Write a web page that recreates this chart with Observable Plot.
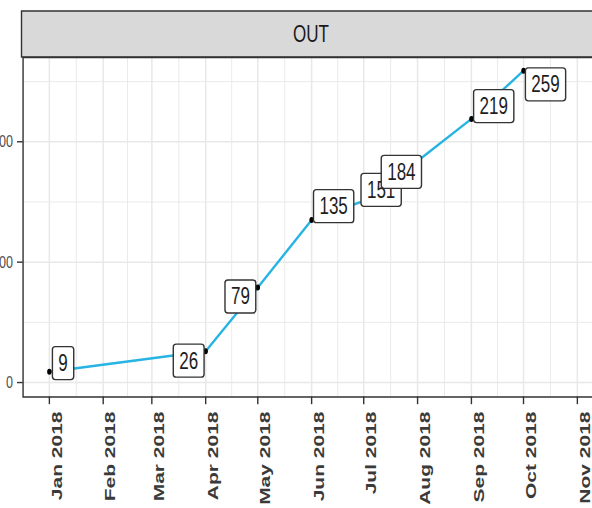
<!DOCTYPE html>
<html><head><meta charset="utf-8">
<script src="https://cdn.jsdelivr.net/npm/d3@7"></script>
<script src="https://cdn.jsdelivr.net/npm/@observablehq/plot@0.6"></script>
<style>
html,body{margin:0;padding:0;background:#fff;overflow:hidden;}
#chart svg path, #chart svg line, #chart svg rect, #chart svg circle { vector-effect: non-scaling-stroke; }
</style></head>
<body><div id="chart"></div>
<script>
// ---- data ----
const facetTitle = "OUT";
const dates = ["2018-01-01","2018-04-01","2018-05-01","2018-06-01","2018-07-01","2018-08-01","2018-09-01","2018-10-01"];
const values = [9, 26, 79, 135, 151, 184, 219, 259];
const tickMonths = ["2018-01-01","2018-02-01","2018-03-01","2018-04-01","2018-05-01","2018-06-01","2018-07-01","2018-08-01","2018-09-01","2018-10-01","2018-11-01"];
const monthLabels = ["Jan 2018","Feb 2018","Mar 2018","Apr 2018","May 2018","Jun 2018","Jul 2018","Aug 2018","Sep 2018","Oct 2018","Nov 2018"];
const yTicks = [0, 100, 200];
const yMinor = [50, 150, 250];
// repelled label offsets (screen px)
const labelNudgeX = [13.7, -17, -17.4, 22, 17.4, -16.2, 22.3, 22];
const labelNudgeY = [-8, 10, 9.6, -13.3, -10.3, 11.4, -12.2, 14.2];

// ---- layout ----
const K = 1.35;            // horizontal compression of the reference rendering
const PX_W = 601, H = 508;
const W = PX_W * K;
const GRID = "#e8e8e8", LINE = "#27b4e2", AXIS = "#333333";
const NARROW = "'Liberation Sans Narrow','Arial Narrow','Liberation Sans',Arial,sans-serif";

const parse = d3.utcParse("%Y-%m-%d");
const tickDates = tickMonths.map(parse);
const xMinor = d3.pairs(tickDates, (a, b) => new Date((+a + +b) / 2));
const xDomain = [new Date(Date.UTC(2017, 11, 16, 20, 38)), new Date(Date.UTC(2018, 10, 14, 6))];
const data = dates.map((d, i) => ({date: parse(d), value: values[i], label: String(values[i])}));

const svg0 = Plot.plot({
  width: W, height: H,
  marginLeft: 22.7 * K, marginRight: 1 * K, marginTop: 57, marginBottom: H - 396.5,
  style: {fontFamily: "'Liberation Sans',Arial,sans-serif", background: "white", overflow: "visible"},
  x: {type: "utc", domain: xDomain},
  y: {domain: [-12, 270]},
  marks: [
    Plot.ruleY(yMinor, {stroke: GRID, strokeWidth: 0.9}),
    Plot.ruleX(xMinor, {stroke: GRID, strokeWidth: 0.9}),
    Plot.ruleY(yTicks, {stroke: GRID, strokeWidth: 1.5}),
    Plot.ruleX(tickDates, {stroke: GRID, strokeWidth: 1.5}),
    Plot.frame({stroke: AXIS, strokeWidth: 1.4}),
    Plot.axisY(yTicks, {tickSize: 7.7, tickPadding: 5.8, fontSize: 17, stroke: AXIS, strokeWidth: 1.4, fill: "#4d4d4d", label: null}),
    Plot.axisX(tickDates, {tickSize: 7.7, tickFormat: () => "", stroke: AXIS, strokeWidth: 1.4, label: null}),
    Plot.text(tickDates, {x: d => d, text: (d, i) => monthLabels[i], frameAnchor: "bottom", rotate: -90,
      textAnchor: "end", lineAnchor: "middle", dy: 14.5, dx: 9.7, fontSize: 21, fontWeight: "bold", fill: "#3a3a3a"}),
    Plot.line(data, {x: "date", y: "value", stroke: LINE, strokeWidth: 2.4}),
    Plot.dot(data, {x: "date", y: "value", r: 3, fill: "black", stroke: null}),
    ...data.map((d, i) => Plot.text([d], {x: "date", y: "value", text: "label",
      dx: labelNudgeX[i] * K, dy: labelNudgeY[i], lineAnchor: "middle", textAnchor: "middle",
      fontSize: 23, fontFamily: NARROW, fill: "#1e1e1e"}))
  ]
});

const svg = svg0.tagName.toLowerCase() === "svg" ? svg0 : svg0.querySelector("svg");
document.getElementById("chart").appendChild(svg0);
svg.setAttribute("preserveAspectRatio", "none");
svg.style.width = PX_W + "px";
svg.style.height = H + "px";
svg.style.maxWidth = "none";

const ns = "http://www.w3.org/2000/svg";
// facet strip
const strip = document.createElementNS(ns, "g");
const sr = document.createElementNS(ns, "rect");
sr.setAttribute("x", 21.5 * K); sr.setAttribute("y", 11);
sr.setAttribute("width", W - 21.5 * K + 20); sr.setAttribute("height", 46);
sr.setAttribute("fill", "#d9d9d9"); sr.setAttribute("stroke", AXIS); sr.setAttribute("stroke-width", 1.4);
const st = document.createElementNS(ns, "text");
st.setAttribute("x", 311 * K); st.setAttribute("y", 34); st.setAttribute("dy", "0.35em");
st.setAttribute("text-anchor", "middle"); st.setAttribute("font-size", 23);
st.setAttribute("font-family", NARROW); st.setAttribute("fill", "#1a1a1a");
st.textContent = facetTitle;
strip.appendChild(sr); strip.appendChild(st);
const firstMark = svg.querySelector(":scope > g");
svg.insertBefore(strip, firstMark);

// label boxes
const labelTexts = [...svg.querySelectorAll("text")].filter(t => {
  const g = t.closest("g[font-family]");
  return g && g.getAttribute("font-family").includes("Narrow") && g !== strip;
});
labelTexts.forEach(t => {
  const bb = t.getBBox();
  const r = document.createElementNS(ns, "rect");
  const px = 8, py = 4;
  r.setAttribute("x", bb.x - px); r.setAttribute("y", bb.y - py);
  r.setAttribute("width", bb.width + 2 * px); r.setAttribute("height", bb.height + 2 * py);
  r.setAttribute("rx", 4); r.setAttribute("ry", 3);
  r.setAttribute("fill", "white"); r.setAttribute("stroke", AXIS); r.setAttribute("stroke-width", 1.4);
  const tr = t.getAttribute("transform");
  if (tr) r.setAttribute("transform", tr);
  t.parentNode.insertBefore(r, t);
});
</script>
</body></html>
